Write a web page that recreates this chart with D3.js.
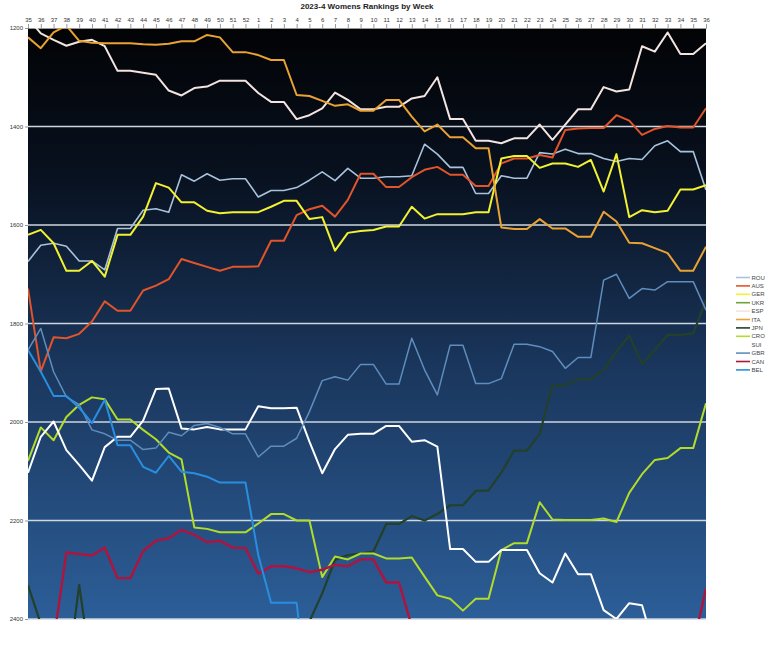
<!DOCTYPE html>
<html><head><meta charset="utf-8">
<script src="https://cdn.jsdelivr.net/npm/d3@7"></script>
<style>body{margin:0;background:#fff;} svg{display:block;}</style>
</head><body>
<svg id="c" width="770" height="650"></svg>
<script>
const weeks = ["35","36","37","38","39","40","41","42","43","44","45","46","47","48","49","50","51","52",
  "1","2","3","4","5","6","7","8","9","10","11","12","13","14","15","16","17","18","19","20",
  "21","22","23","24","25","26","27","28","29","30","31","32","33","34","35 ","36 "];
const weekLabels = ["35","36","37","38","39","40","41","42","43","44","45","46","47","48","49","50","51","52",
  "1","2","3","4","5","6","7","8","9","10","11","12","13","14","15","16","17","18","19","20",
  "21","22","23","24","25","26","27","28","29","30","31","32","33","34","35","36"];
const yTicks = [1200,1400,1600,1800,2000,2200,2400];

const ROU = [1674,1641,1637,1643,1673,1673,1691,1607,1607,1570,1567,1574,1498,1511,1496,1509,1506,1506,
  1543,1530,1530,1524,1509,1492,1510,1485,1505,1505,1502,1502,1500,1436,1456,1483,1483,1536,1536,1500,
  1505,1505,1453,1456,1446,1455,1455,1465,1471,1465,1467,1439,1429,1451,1451,1529];
const AUS = [1729,1897,1828,1830,1821,1796,1755,1774,1774,1733,1723,1710,1669,1677,1685,1693,1685,1685,
  1684,1632,1632,1580,1568,1561,1583,1549,1496,1496,1523,1523,1503,1488,1482,1498,1498,1521,1521,1475,
  1465,1465,1458,1463,1407,1404,1403,1403,1377,1388,1417,1405,1399,1402,1402,1363];
const GER = [1620,1610,1637,1693,1693,1673,1705,1620,1620,1583,1515,1524,1554,1554,1571,1576,1574,1574,
  1574,1563,1551,1551,1588,1584,1652,1616,1612,1610,1603,1603,1563,1587,1578,1578,1578,1574,1574,1465,
  1460,1460,1484,1475,1475,1482,1468,1532,1456,1584,1570,1574,1571,1528,1528,1519];
const UKR = [null,null,null,null,null,null,null,null,null,null,null,null,null,null,null,null,null,null,
  null,null,null,null,null,null,null,null,null,null,null,null,null,null,null,null,null,null,null,null,
  null,null,null,null,null,null,null,null,null,null,null,null,null,null,null,null];
const ESP = [1180,1211,1224,1236,1228,1224,1237,1287,1287,1291,1295,1327,1337,1322,1319,1307,1307,1307,
  1332,1350,1350,1385,1377,1363,1331,1346,1365,1365,1360,1360,1343,1338,1300,1385,1385,1429,1429,1434,
  1424,1424,1396,1427,1396,1365,1365,1320,1329,1325,1237,1248,1209,1253,1253,1231];
const ITA = [1219,1241,1209,1195,1226,1230,1231,1231,1231,1233,1234,1232,1227,1227,1214,1219,1249,1249,
  1255,1265,1265,1336,1338,1348,1358,1355,1368,1368,1346,1346,1380,1410,1396,1422,1422,1444,1444,1605,
  1608,1608,1588,1607,1607,1624,1624,1573,1593,1636,1637,1647,1657,1693,1693,1644];
const JPN = [2331,2410,2520,2534,2331,2512,null,null,null,null,null,null,null,null,null,null,null,null,
  null,null,null,null,2405,2348,2280,2270,2267,2263,2207,2207,2191,2200,2187,2169,2169,2140,2139,2103,
  2058,2058,2024,1925,1925,1913,1913,1894,1857,1825,1882,1854,1823,1823,1820,1752];
const CRO = [2079,2011,2037,1990,1965,1950,1954,1995,1995,2016,2035,2062,2076,2214,2217,2224,2224,2224,
  2206,2187,2187,2200,2200,2315,2273,2279,2267,2267,2277,2277,2275,2314,2352,2359,2383,2359,2359,2260,
  2246,2246,2163,2198,2199,2199,2199,2196,2203,2144,2106,2077,2073,2053,2053,1962];
const SUI = [2103,2030,1999,2057,2087,2119,2051,2030,2030,1997,1933,1932,2013,2015,2010,2015,2015,2015,
  1968,1972,1972,1971,2040,2104,2055,2026,2024,2024,2008,2008,2040,2037,2050,2258,2258,2284,2284,2260,
  2260,2260,2307,2326,2267,2309,2309,2382,2400,2368,2372,2462,null,null,null,null];
const GBR = [1854,1810,1898,1949,1965,2016,2024,2037,2037,2056,2053,2021,2028,2007,2003,2011,2024,2024,
  2071,2049,2049,2033,1979,1916,1908,1915,1883,1883,1923,1923,1830,1894,1945,1844,1844,1922,1922,1912,
  1842,1842,1847,1857,1891,1869,1869,1712,1700,1749,1729,1732,1715,1715,1715,1773];
const CAN = [null,null,2445,2265,2268,2271,2255,2317,2317,2262,2241,2236,2219,2229,2244,2241,2255,2256,
  2308,2293,2293,2297,2305,2300,2290,2293,2279,2279,2326,2326,2415,null,null,null,null,null,null,null,
  null,null,null,null,null,null,null,null,null,null,null,null,null,null,2453,2338];
const BEL = [1854,1898,1947,1947,1971,2002,1955,2047,2047,2091,2103,2069,2101,2104,2111,2123,2123,2123,
  2270,2367,2367,2367,2600,null,null,null,null,null,null,null,null,null,null,null,null,null,null,null,
  null,null,null,null,null,null,null,null,null,null,null,null,null,null,null,null];

const seriesNames = ["ROU","AUS","GER","UKR","ESP","ITA","JPN","CRO","SUI","GBR","CAN","BEL"];
const seriesValues = [ROU,AUS,GER,UKR,ESP,ITA,JPN,CRO,SUI,GBR,CAN,BEL];
const style = {
  ROU:{c:"#a9c3dc",w:1.6}, AUS:{c:"#e2542a",w:2}, GER:{c:"#f2f232",w:2}, UKR:{c:"#6fa23a",w:2},
  ESP:{c:"#f3e4e0",w:2}, ITA:{c:"#eaa232",w:2}, JPN:{c:"#22402a",w:2.2}, CRO:{c:"#b2dc2a",w:2},
  SUI:{c:"#ffffff",w:2}, GBR:{c:"#5f8dbd",w:1.5}, CAN:{c:"#b0143e",w:2.4}, BEL:{c:"#2a8ee0",w:2}
};

const svg = d3.select("#c");
const L = 28, R = 706, T = 28, B = 619;
const x = d3.scalePoint().domain(weeks).range([L, R]);
const y = d3.scaleLinear().domain([1200, 2400]).range([T, B]);

const defs = svg.append("defs");
const grad = defs.append("linearGradient").attr("id","bg").attr("x1",0).attr("y1",0).attr("x2",0).attr("y2",1);
grad.append("stop").attr("offset","0%").attr("stop-color","#020305");
grad.append("stop").attr("offset","25%").attr("stop-color","#08111f");
grad.append("stop").attr("offset","55%").attr("stop-color","#193459");
grad.append("stop").attr("offset","100%").attr("stop-color","#2c5e98");
defs.append("clipPath").attr("id","clip").append("rect")
  .attr("x",L).attr("y",T).attr("width",R-L).attr("height",B-T);

svg.append("rect").attr("x",L).attr("y",T).attr("width",R-L).attr("height",B-T).attr("fill","url(#bg)");

// gridlines
svg.append("g").selectAll("line").data(yTicks.filter(v => v > 1200))
  .join("line").attr("x1",L).attr("x2",R).attr("y1",d=>y(d)).attr("y2",d=>y(d))
  .attr("stroke","#cfd6de").attr("stroke-width",1.4);

// title
svg.append("text").attr("x",(L+R)/2).attr("y",9).attr("text-anchor","middle")
  .attr("font-family","Liberation Sans, Arial, sans-serif").attr("font-weight","bold")
  .attr("font-size",8).attr("fill","#222").text("2023-4 Womens Rankings by Week");

// top axis
const xa = svg.append("g").attr("transform",`translate(0,${T})`)
  .call(d3.axisTop(x).tickSize(4).tickPadding(2).tickFormat((d,i)=>weekLabels[i]));
xa.select(".domain").attr("stroke","#999");
xa.selectAll(".tick line").attr("stroke","#999");
xa.selectAll("text").attr("font-family","Liberation Sans, Arial, sans-serif").attr("font-size",6).attr("fill","#333");

// left axis
const ya = svg.append("g").attr("transform",`translate(${L},0)`)
  .call(d3.axisLeft(y).tickValues(yTicks).tickSize(3).tickPadding(2).tickFormat(d3.format("d")));
ya.select(".domain").remove();
ya.selectAll(".tick line").attr("stroke","#999");
ya.selectAll("text").attr("font-family","Liberation Sans, Arial, sans-serif").attr("font-size",6).attr("fill","#333");

// lines
const line = d3.line().defined(d => d.v != null).x(d => x(d.w)).y(d => y(d.v));
const gl = svg.append("g").attr("clip-path","url(#clip)");
seriesNames.forEach((n, k) => {
  const pts = seriesValues[k].map((v, i) => ({w: weeks[i], v}));
  gl.append("path").datum(pts).attr("d", line).attr("fill","none")
    .attr("stroke", style[n].c).attr("stroke-width", style[n].w)
    .attr("stroke-linejoin","round");
});

// legend
const lg = svg.append("g");
seriesNames.forEach((n, k) => {
  const yy = 277.5 + k * 8.4;
  lg.append("line").attr("x1",736).attr("x2",750).attr("y1",yy).attr("y2",yy)
    .attr("stroke", style[n].c).attr("stroke-width",1.6);
  lg.append("text").attr("x",751.5).attr("y",yy+2).attr("font-family","Liberation Sans, Arial, sans-serif")
    .attr("font-size",6).attr("fill","#444").text(n);
});
</script>
</body></html>
